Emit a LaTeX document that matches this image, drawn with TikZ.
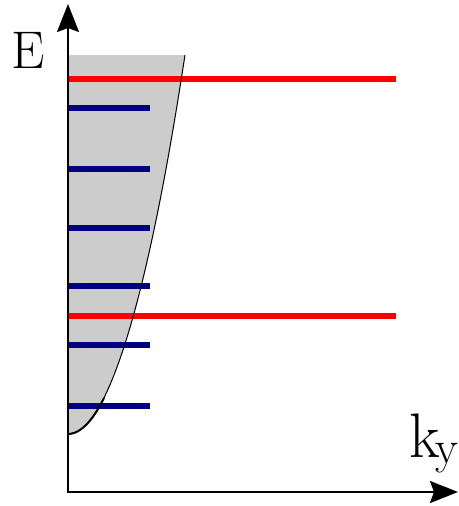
\documentclass[tikz,border=0pt]{standalone}
\usepackage{fontspec}
\usetikzlibrary{arrows.meta}
\definecolor{bandgray}{HTML}{CCCCCC}
\definecolor{navyline}{HTML}{000080}
\definecolor{redline}{HTML}{FF0000}
\tikzset{
  axis/.style={line width=2.6pt, -{Stealth[length=28pt,width=22pt,inset=4pt]}},
  bandedge/.style={line width=1pt, black},
  bluelevel/.style={line width=6pt, navyline},
  redlevel/.style={line width=6pt, redline},
  lbl/.style={inner sep=0pt, outer sep=0pt}
}
\begin{document}
\begin{tikzpicture}[x=1pt,y=-1pt]
\useasboundingbox (0,0) rectangle (458,506);
% band fill
\fill[bandgray] (68,434) parabola (185,55) -- (68,55) -- cycle;
% levels
\foreach \yy in {108,169,228,286,345,406}{
  \draw[bluelevel] (68.3,\yy) -- (150,\yy);
}
\foreach \yy in {79,316}{
  \draw[redlevel] (68.3,\yy) -- (396,\yy);
}
% band edge
\draw[bandedge] (68,434) parabola (185,55);
\draw[line width=2pt] (68,434) parabola (104,398);
% axes
\coordinate (o) at (68,493.3);
\coordinate (o2) at (66.7,492);
\coordinate (etip) at (68,4);
\coordinate (ktip) at (458,492);
\draw[axis] (o) -- (etip);
\draw[axis] (o2) -- (ktip);
% labels
\node[lbl, anchor=base] (E) at (28,68) {\fontsize{53}{53}\selectfont E};
\node[lbl, anchor=base west] (ky) at (409,457) {\fontsize{63}{63}\selectfont k\kern-4pt\raisebox{-6pt}{\fontsize{47}{47}\selectfont y}};
\end{tikzpicture}
\end{document}
